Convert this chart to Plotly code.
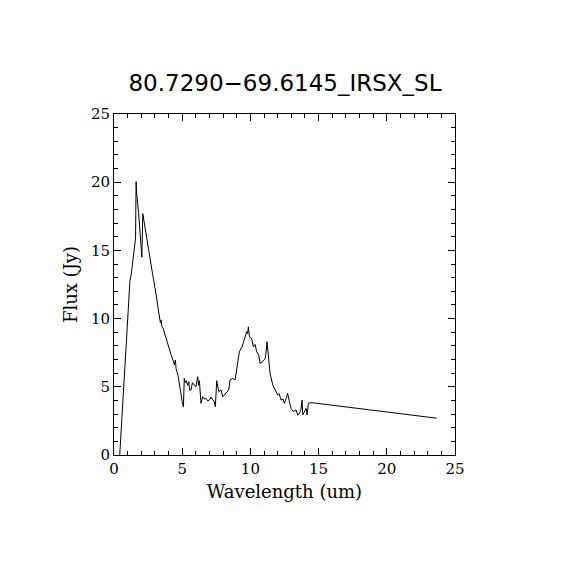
import plotly.graph_objects as go

wavelength = [0.42, 1.17, 1.26, 1.58, 1.62, 1.66, 1.8, 1.92, 2.04, 2.11, 2.2, 2.5, 2.84, 3.0, 3.33,
              3.4, 3.45, 3.52, 3.6, 3.8, 4.0, 4.2, 4.35, 4.43, 4.5, 4.55, 4.7, 4.85, 5.0, 5.09,
              5.15, 5.22, 5.3, 5.4, 5.48, 5.55, 5.65, 5.75, 5.9, 6.0, 6.14, 6.2, 6.26, 6.38, 6.5,
              6.62, 6.75, 6.88, 7.0, 7.12, 7.24, 7.35, 7.43, 7.53, 7.68, 7.85, 7.97, 8.1, 8.22,
              8.41, 8.51, 8.7, 8.88, 9.07, 9.19, 9.39, 9.56, 9.73, 9.8, 9.85, 9.93, 10.05, 10.12,
              10.22, 10.35, 10.46, 10.61, 10.71, 10.9, 11.1, 11.22, 11.32, 11.44, 11.64, 11.83,
              12.0, 12.1, 12.25, 12.4, 12.49, 12.62, 12.73, 12.86, 12.98, 13.15, 13.35, 13.47,
              13.6, 13.7, 13.79, 13.84, 13.96, 14.08, 14.16, 14.25, 14.45, 23.65]
flux = [0.0, 12.8, 13.2, 15.9, 20.04, 19.2, 17.8, 16.2, 14.5, 17.7, 17.1, 15.2, 13.2, 12.3, 10.4,
        9.7, 9.9, 9.4, 9.3, 8.6, 7.9, 7.3, 6.9, 6.6, 6.96, 6.35, 5.8, 4.7, 3.9, 3.54,
        5.62, 5.3, 5.45, 5.1, 5.37, 4.75, 4.77, 5.3, 5.13, 5.0, 5.74, 5.1, 5.45, 3.79, 4.27,
        4.1, 4.15, 3.95, 4.03, 4.25, 4.05, 3.9, 3.54, 5.45, 4.64, 4.77, 4.27, 4.4, 4.52,
        4.77, 5.5, 5.62, 5.5, 6.6, 7.57, 7.94, 8.55, 9.04, 8.9, 9.4, 8.67, 8.6, 8.43,
        7.94, 8.1, 7.57, 7.33, 6.72, 6.84, 7.09, 8.3, 7.45, 5.99, 5.13, 4.77,
        4.4, 4.5, 4.03, 4.1, 3.79, 4.15, 4.52, 3.91, 3.42, 3.18, 3.3, 2.93,
        3.05, 3.3, 4.03, 2.93, 3.18, 3.42, 2.93, 3.79, 3.84, 2.7]

title_text = "80.7290\u221269.6145_IRSX_SL"

fig = go.Figure()
fig.add_trace(go.Scatter(x=wavelength, y=flux, mode="lines",
                         line=dict(color="black", width=1), showlegend=False))

axis_common = dict(
    showgrid=False, zeroline=False, showline=True, linecolor="black", linewidth=1,
    mirror="ticks", ticks="inside", ticklen=7, tickwidth=1, tickcolor="black",
    range=[0, 25], tickmode="array", tickvals=[0, 5, 10, 15, 20, 25],
    tickfont=dict(family="DejaVu Serif", size=15, color="black"),
    minor=dict(ticks="inside", ticklen=4, tickcolor="black", dtick=1, showgrid=False),
)

fig.update_xaxes(**axis_common,
                 title=dict(text="Wavelength (um)", standoff=8,
                            font=dict(family="DejaVu Serif", size=18, color="black")))
fig.update_yaxes(**axis_common,
                 title=dict(text="Flux (Jy)", standoff=8,
                            font=dict(family="DejaVu Serif", size=18, color="black")))

fig.update_layout(
    width=554, height=554,
    margin=dict(l=106, r=107, t=106, b=107),
    paper_bgcolor="white", plot_bgcolor="white",
    title=dict(text=title_text, x=0.5, xanchor="center", y=1 - 75 / 554, yanchor="middle",
               font=dict(family="DejaVu Sans", size=23, color="black")),
)

fig.write_html("out.html")
